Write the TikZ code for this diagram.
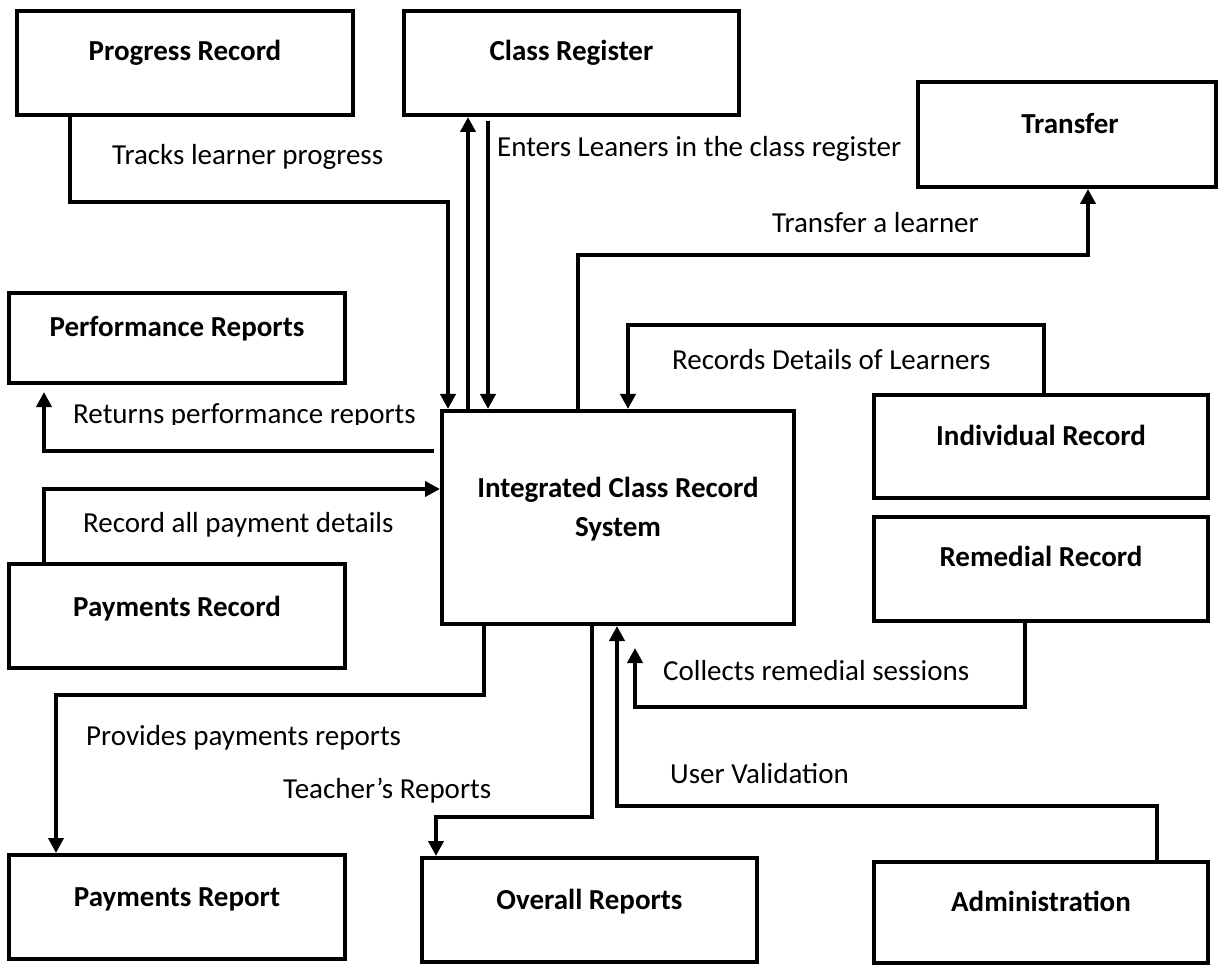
\documentclass[tikz,border=0pt]{standalone}
\usepackage{fontspec}
\setmainfont{Carlito}
\usetikzlibrary{arrows.meta}

\begin{document}
\begin{tikzpicture}[x=1pt,y=-1pt,
  box/.style={draw=black, line width=4pt, fill=white, inner sep=0pt},
  title/.style={inner sep=0pt, anchor=base, font=\fontsize{29}{35}\selectfont\bfseries},
  lbl/.style={inner sep=0pt, anchor=base west, font=\fontsize{29}{35}\selectfont},
  flow/.style={line width=4pt, -{Triangle[length=15pt,width=15pt]}},
  link/.style={line width=4pt}]

\useasboundingbox (0,0) rectangle (1218,965);

% ---------- boxes ----------
\node[box, minimum width=336, minimum height=104] (prog)    at (185,63) {};
\node[box, minimum width=335, minimum height=104] (creg)    at (571.5,63) {};
\node[box, minimum width=298, minimum height=105] (trans)   at (1067,134.5) {};
\node[box, minimum width=336, minimum height=90]  (perf)    at (177,338) {};
\node[box, minimum width=352, minimum height=213] (icrs)    at (618,517.5) {};
\node[box, minimum width=334, minimum height=103] (indiv)   at (1041,446.5) {};
\node[box, minimum width=334, minimum height=104] (remed)   at (1041,569) {};
\node[box, minimum width=336, minimum height=104] (payrec)  at (177,616) {};
\node[box, minimum width=336, minimum height=104] (payrep)  at (177,907) {};
\node[box, minimum width=335, minimum height=104] (overall) at (589.5,910) {};
\node[box, minimum width=334, minimum height=101] (admin)   at (1041,912.5) {};

% ---------- box titles ----------
\node[title] (progT)    at (185,61)   {Progress Record};
\node[title] (cregT)    at (571.5,61) {Class Register};
\node[title] (transT)   at (1070,134) {Transfer};
\node[title] (perfT)    at (177,337)  {Performance Reports};
\node[title] (icrsT)    at (618,497)  {Integrated Class Record};
\node[title] (icrsU)    at (618,536)  {System};
\node[title] (indivT)   at (1041,445) {Individual Record};
\node[title] (remedT)   at (1041,566) {Remedial Record};
\node[title] (payrecT)  at (177,616)  {Payments Record};
\node[title] (payrepT)  at (177,906)  {Payments Report};
\node[title] (overallT) at (589.5,909){Overall Reports};
\node[title] (adminT)   at (1041,911) {Administration};

% ---------- bend points ----------
\coordinate (b1a) at (70,202);   \coordinate (b1b) at (448,202);
\coordinate (k2)  at (468,0);
\coordinate (k3)  at (488,0);
\coordinate (b4a) at (578,255);  \coordinate (b4b) at (1088,255);
\coordinate (b5a) at (1044,325); \coordinate (b5b) at (628,325);
\coordinate (b6a) at (436,451);  \coordinate (b6b) at (44,451);
\coordinate (b7a) at (44,489);
\coordinate (b8a) at (484,695);  \coordinate (b8b) at (56,695);
\coordinate (b9a) at (592,817);  \coordinate (b9b) at (436,817);
\coordinate (b10a) at (1025,707); \coordinate (b10b) at (635,707);
\coordinate (b11a) at (1157,806); \coordinate (b11b) at (617,806);

% ---------- data flows ----------
\draw[flow] (prog.south -| b1a) -- (b1a) -- (b1b) -- (icrs.north -| b1b);
\draw[flow] (icrs.north -| k2) -- (creg.south -| k2);
\draw[flow, shorten <=4pt] (creg.south -| k3) -- (icrs.north -| k3);
\draw[flow] (icrs.north -| b4a) -- (b4a) -- (b4b) -- (trans.south -| b4b);
\draw[flow] (indiv.north -| b5a) -- (b5a) -- (b5b) -- (icrs.north -| b5b);
\draw[flow, shorten <=6pt, shorten >=7pt] (icrs.west |- b6a) -- (b6b) -- (perf.south -| b6b);
\draw[flow] (payrec.north -| b7a) -- (b7a) -- (icrs.west |- b7a);
\draw[flow] (icrs.south -| b8a) -- (b8a) -- (b8b) -- (payrep.north -| b8b);
\draw[flow] (icrs.south -| b9a) -- (b9a) -- (b9b) -- (overall.north -| b9b);
\draw[flow, shorten >=22pt] (remed.south -| b10a) -- (b10a) -- (b10b) -- (icrs.south -| b10b);
\draw[flow] (admin.north -| b11a) -- (b11a) -- (b11b) -- (icrs.south -| b11b);

% ---------- flow labels ----------
\node[lbl] (l1)  at (112,165) {Tracks learner progress};
\node[lbl] (l2)  at (497,157) {Enters Leaners in the class register};
\node[lbl] (l3)  at (772,233) {Transfer a learner};
\node[lbl] (l4)  at (672,370) {Records Details of Learners};
\begin{scope}
  \clip (0,380) rectangle (440,424);
  \node[lbl] (l5) at (73,423) {Returns performance reports};
\end{scope}
\node[lbl] (l6)  at (83,532)  {Record all payment details};
\node[lbl] (l7)  at (663,680) {Collects remedial sessions};
\node[lbl] (l8)  at (86,745)  {Provides payments reports};
\node[lbl] (l9)  at (283,798) {Teacher’s Reports};
\node[lbl] (l10) at (670,783) {User Validation};

\end{tikzpicture}
\end{document}
